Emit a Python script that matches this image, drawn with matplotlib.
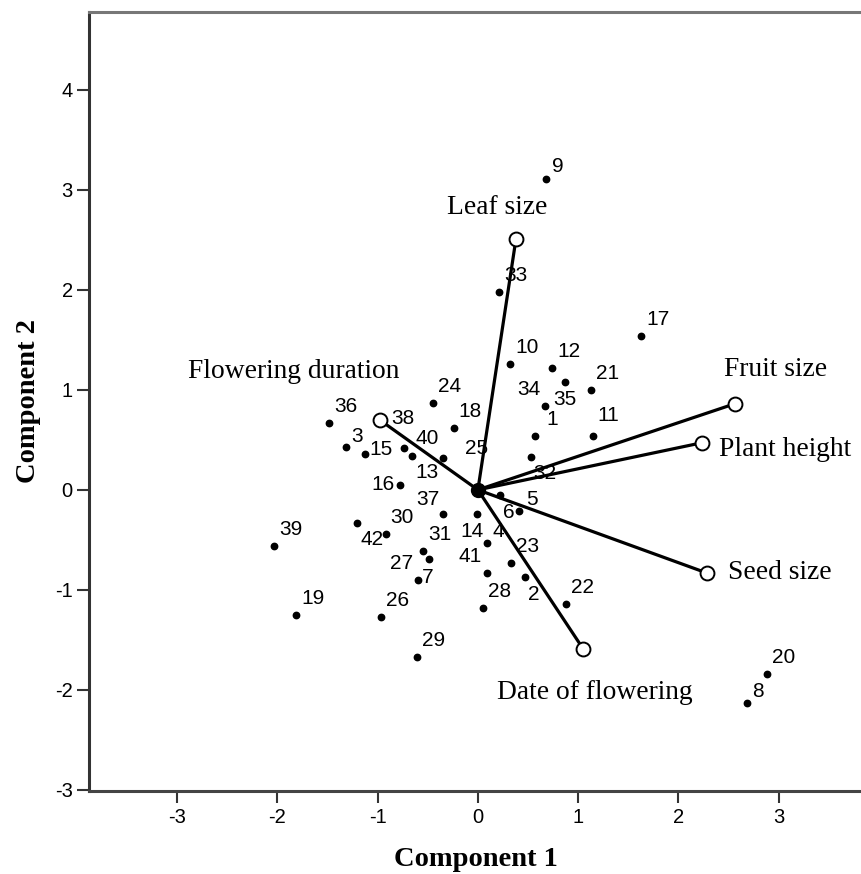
import matplotlib
matplotlib.use('Agg')
import matplotlib.pyplot as plt

plt.rcParams['axes.unicode_minus'] = False

# Case scores (component 1, component 2)
case_ids = list(range(1, 43))
score_x = [0.57, 0.47, -1.32, 0.09, 0.41, 0.22, -0.60, 2.68, 0.68, 0.32,
           1.15, 0.74, -0.66, -0.01, -1.13, -0.78, 1.63, -0.24, -1.81, 2.88,
           1.13, 0.88, 0.33, -0.45, -0.35, -0.97, -0.49, 0.05, -0.61, -0.92,
           -0.55, 0.53, 0.21, 0.67, 0.87, -1.48, -0.35, -0.98, -2.03, -0.74,
           0.09, -1.21]
score_y = [0.54, -0.87, 0.43, -0.53, -0.21, -0.05, -0.90, -2.13, 3.11, 1.26,
           0.54, 1.22, 0.34, -0.24, 0.36, 0.05, 1.54, 0.62, -1.25, -1.84,
           1.00, -1.14, -0.73, 0.87, 0.32, -1.27, -0.69, -1.18, -1.67, -0.44,
           -0.61, 0.33, 1.98, 0.84, 1.08, 0.67, -0.24, 0.70, -0.56, 0.42,
           -0.83, -0.33]

# Variable loadings
traits = ['Leaf size', 'Flowering duration', 'Fruit size', 'Plant height',
          'Seed size', 'Date of flowering']
load_x = [0.38, -0.98, 2.56, 2.23, 2.28, 1.05]
load_y = [2.51, 0.70, 0.86, 0.47, -0.83, -1.59]

# Label placement (offset points), default is upper right
default_offset = (12, 12)
label_offsets = {
    2: (6.5, -13), 3: (8.6, 7.2), 4: (8, 8), 5: (9.4, 8), 6: (6.5, -13),
    7: (7, 2), 8: (8, 8), 9: (8.6, 8.6), 11: (11, 15), 13: (11, -12),
    14: (-3.6, -13), 15: (12, 3), 16: (-12, 0), 25: (24.5, 6.5),
    27: (-19.4, -3.6), 32: (10, -12), 34: (-12, 11.5), 35: (0, -13),
    37: (-11, 10), 38: (17, 0.7), 40: (17, 6.5), 41: (-12, 11.5),
    42: (11, -12),
}
trait_offsets = [(-13.7, 22.3), (-62, 34.6), (29.5, 24.5), (60, -5),
                 (53, 0), (8.6, -31.7)]

sans = 'Liberation Sans'
serif = 'Liberation Serif'

fig = plt.figure(figsize=(8.62, 8.74), dpi=100)
ax = fig.add_axes([0.1032, 0.0950, 0.8968, 0.8913])

# Case points
ax.plot(score_x, score_y, 'o', color='black', markersize=4.6, zorder=3)
for cid, px, py in zip(case_ids, score_x, score_y):
    ax.annotate(str(cid), (px, py), xytext=label_offsets.get(cid, default_offset),
                textcoords='offset points', ha='center', va='center',
                fontsize=15, family=sans, zorder=4)

# Loading vectors
for name, lx, ly, off in zip(traits, load_x, load_y, trait_offsets):
    ax.plot([0, lx], [0, ly], color='black', linewidth=2.3, zorder=2)
    ax.plot(lx, ly, 'o', markersize=10, markerfacecolor='white',
            markeredgecolor='black', markeredgewidth=1.4, zorder=5)
    ax.annotate(name, (lx, ly), xytext=off, textcoords='offset points',
                ha='center', va='center', fontsize=19.8, family=serif, zorder=4)
ax.plot(0, 0, 'o', color='black', markersize=10, zorder=6)

ax.set_xlim(-3.878, 3.83)
ax.set_ylim(-3.01, 4.777)
ax.set_xticks([-3, -2, -1, 0, 1, 2, 3])
ax.set_yticks([-3, -2, -1, 0, 1, 2, 3, 4])
ax.tick_params(direction='out', length=8.6, width=1.5, labelsize=14.5, color='#333333')
ax.tick_params(axis='x', pad=4)
ax.tick_params(axis='y', pad=3)
for lbl in ax.get_xticklabels() + ax.get_yticklabels():
    lbl.set_family(sans)

ax.spines['right'].set_visible(False)
ax.spines['left'].set_color('#333333')
ax.spines['bottom'].set_color('#444444')
ax.spines['top'].set_color('#777777')
for side in ['left', 'bottom', 'top']:
    ax.spines[side].set_linewidth(2.2)

ax.set_xlabel('Component 1', fontsize=20.5, family=serif, fontweight='bold', labelpad=14)
ax.set_ylabel('Component 2', fontsize=20.5, family=serif, fontweight='bold', labelpad=10)

plt.savefig('out.png', dpi=100)
